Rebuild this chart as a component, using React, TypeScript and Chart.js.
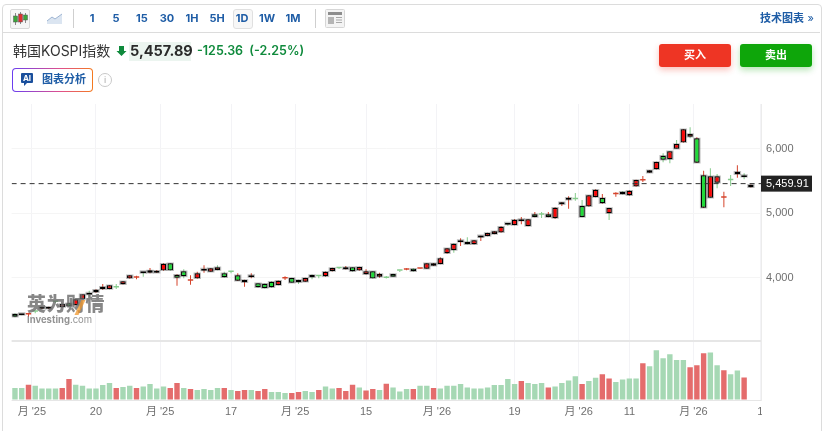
import { useEffect, useRef } from "react";
import { Chart, registerables } from "chart.js";

Chart.register(...registerables);

const opens = [
  3439, 3431, 3430, 3478, 3521, 3521, 3628, 3547, 3605, 3578,
  3672, 3748, 3776, 3862, 3827, 3852, 3900, 3992, 4000, 4081,
  4116, 4079, 4116, 4225, 4048, 4101, 3954, 3992, 4113, 4095,
  4121, 4070, 4095, 4039, 3966, 4014, 3915, 3909, 3940, 3889,
  3988, 3997, 3966, 3940, 4008, 4026, 4024, 4106, 4150, 4163,
  4163, 4116, 4055, 4101, 4017, 4000, 4059, 4112, 4124, 4142,
  4141, 4141, 4188, 4214, 4380, 4431, 4557, 4520, 4520, 4629,
  4648, 4679, 4705, 4833, 4819, 4882, 4803, 4985, 4980, 4985,
  4927, 5140, 5242, 5219, 5113, 5108, 5253, 5237, 5000, 5294,
  5335, 5279, 5418, 5507, 5629, 5682, 5893, 5837, 6001, 6100,
  6187, 6162, 5589, 5242, 5474, 5241, 5517, 5645, 5570, 5403,
];
const closes = [
  3397, 3423, 3433, 3475, 3547, 3547, 3625, 3594, 3558, 3667,
  3745, 3742, 3816, 3827, 3884, 3849, 3946, 4039, 4003, 4075,
  4079, 4110, 4219, 4116, 4002, 4024, 3957, 4070, 4120, 4148,
  4163, 4008, 4092, 3955, 3930, 4020, 3853, 3842, 3853, 3955,
  3991, 3924, 3930, 3997, 4044, 4023, 4095, 4152, 4147, 4132,
  4101, 4168, 4101, 3992, 4059, 3997, 4017, 4109, 4127, 4101,
  4144, 4225, 4225, 4302, 4458, 4529, 4563, 4555, 4582, 4635,
  4695, 4721, 4792, 4827, 4901, 4888, 4907, 4943, 4977, 4943,
  5087, 5170, 5211, 5216, 4943, 5279, 5366, 5155, 5082, 5297,
  5295, 5350, 5516, 5510, 5667, 5795, 5831, 5961, 6074, 6302,
  6229, 5784, 5087, 5574, 5574, 5244, 5514, 5605, 5564, 5443,
];
const highs = [
  3450, 3434, 3460, 3485, 3555, 3552, 3640, 3600, 3612, 3672,
  3750, 3800, 3822, 3904, 3890, 3904, 3952, 4045, 4033, 4090,
  4152, 4121, 4225, 4230, 4055, 4132, 4039, 4095, 4194, 4154,
  4194, 4095, 4097, 4070, 3972, 4070, 3920, 3914, 3946, 3960,
  4024, 4002, 3972, 4003, 4050, 4030, 4100, 4158, 4152, 4185,
  4168, 4173, 4132, 4106, 4079, 4028, 4064, 4114, 4148, 4147,
  4146, 4230, 4230, 4318, 4463, 4534, 4612, 4628, 4588, 4653,
  4700, 4726, 4798, 4845, 4912, 4943, 4912, 5020, 5020, 5020,
  5092, 5176, 5264, 5315, 5206, 5284, 5371, 5299, 5087, 5326,
  5340, 5356, 5521, 5578, 5672, 5800, 5930, 5966, 6136, 6307,
  6333, 6178, 5660, 5698, 5609, 5335, 5594, 5744, 5620, 5448,
];
const lows = [
  3390, 3420, 3397, 3450, 3515, 3516, 3605, 3540, 3552, 3572,
  3667, 3707, 3770, 3811, 3822, 3827, 3895, 3987, 3977, 4017,
  4070, 4075, 4110, 4110, 3878, 3992, 3893, 3987, 4079, 4090,
  4116, 4003, 4070, 3950, 3862, 3992, 3848, 3836, 3848, 3884,
  3966, 3920, 3904, 3935, 3977, 3992, 4018, 4100, 4135, 4128,
  4096, 4111, 4050, 3987, 4002, 3990, 4012, 4090, 4118, 4096,
  4136, 4136, 4183, 4209, 4375, 4389, 4493, 4515, 4515, 4571,
  4643, 4674, 4700, 4808, 4814, 4830, 4798, 4938, 4927, 4938,
  4912, 5113, 5071, 5195, 4938, 5103, 5248, 5150, 4896, 5257,
  5290, 5274, 5413, 5485, 5624, 5677, 5790, 5775, 5996, 6095,
  6162, 5779, 5082, 5237, 5388, 5093, 5423, 5552, 5527, 5398,
];
const volumes = [
  36, 36, 46, 43, 35, 35, 35, 36, 63, 46,
  43, 35, 35, 45, 51, 36, 39, 43, 36, 41,
  48, 35, 41, 36, 51, 36, 33, 30, 33, 30,
  36, 36, 30, 27, 30, 30, 27, 33, 24, 24,
  21, 21, 24, 27, 24, 30, 41, 35, 36, 27,
  46, 38, 29, 33, 30, 49, 38, 26, 33, 33,
  43, 43, 36, 35, 43, 43, 48, 38, 35, 35,
  38, 45, 45, 63, 48, 57, 51, 48, 51, 38,
  41, 51, 59, 72, 48, 57, 67, 78, 65, 54,
  62, 65, 65, 111, 102, 150, 126, 138, 121, 121,
  99, 105, 141, 143, 105, 90, 78, 89, 68,
];
// days whose volume bar is red, and candles whose wick differs from the body
const redVolumeDays = [2, 7, 8, 15, 18, 23, 24, 26, 31, 33, 34, 36, 37, 41, 42, 45, 48, 49, 50, 52, 53, 55, 59, 62, 75, 79, 84, 87, 88, 93, 100, 101, 102, 105, 108];
const oppositeWicks = [13, 20, 24, 30, 33, 34, 44, 49, 65, 67, 77, 79, 82, 87, 88, 97, 98, 100, 101, 102, 103, 104, 107];

const tickValues = [2.5, 12, 21.5, 32, 41.5, 52, 62.5, 74, 83.5, 91, 100.5, 110.4];
const tickLabels = ["月 '25", "20", "月 '25", "17", "月 '25", "15", "月 '26", "19", "月 '26", "11", "月 '26", "1"];
const priceTicks = [4000, 5000, 6000];
const lastPrice = 5459.91;

const UP = "#f80808";
const DOWN = "#1fdc38";
const AXIS_FONT = '"Liberation Sans", "Noto Sans CJK SC", sans-serif';
const UI_FONT = 'Inter, "Noto Sans CJK SC", sans-serif';

const isThin = (i: number) => Math.abs(opens[i] - closes[i]) <= 4;
const isDoji = (i: number) => !isThin(i) && Math.abs(opens[i] - closes[i]) <= 10;
const wickColor = (i: number) => {
  const up = closes[i] >= opens[i];
  const red = oppositeWicks.includes(i) ? !up : up;
  return red ? "#d5442c" : "#86cb8c";
};

const lastPriceBox = {
  id: "lastPriceBox",
  afterDraw(chart: any) {
    const { ctx, scales } = chart;
    const y = scales.y.getPixelForValue(lastPrice);
    ctx.save();
    ctx.fillStyle = "#222222";
    ctx.fillRect(761, y - 8, 51, 16);
    ctx.fillStyle = "#ffffff";
    ctx.font = `11px ${AXIS_FONT}`;
    ctx.textBaseline = "middle";
    ctx.fillText(lastPrice.toLocaleString("en-US"), 766, y + 0.5);
    ctx.restore();
  },
};

function PriceChart() {
  const canvasRef = useRef<HTMLCanvasElement>(null);

  useEffect(() => {
    if (!canvasRef.current) return;
    const days = opens.map((_, i) => i);
    const chart = new Chart(canvasRef.current, {
      type: "bar",
      data: {
        datasets: [
          {
            type: "line",
            data: [{ x: -0.5, y: lastPrice }, { x: 110.5, y: lastPrice }],
            borderColor: "#333333",
            borderWidth: 1,
            borderDash: [5, 4],
            pointRadius: 0,
            yAxisID: "y",
            order: 0,
          },
          {
            data: days.map((i) => ({ x: i, y: [lows[i], highs[i]] })),
            backgroundColor: days.map(wickColor),
            barThickness: 1,
            inflateAmount: 0,
            yAxisID: "y",
            order: 4,
          },
          {
            data: days.map((i) => ({ x: i, y: [opens[i], closes[i]] })),
            backgroundColor: days.map((i) => (isThin(i) ? "transparent" : "rgba(60,60,60,0.33)")),
            barThickness: 6,
            minBarLength: 2,
            inflateAmount: 0.7,
            yAxisID: "y",
            order: 3,
          },
          {
            data: days.map((i) => ({ x: i, y: [opens[i], closes[i]] })),
            backgroundColor: days.map((i) =>
              isThin(i) ? wickColor(i) : isDoji(i) ? "#000000" : closes[i] >= opens[i] ? UP : DOWN
            ),
            borderColor: "#000000",
            borderWidth: days.map((i) => (isThin(i) || isDoji(i) ? 0 : 1.2)),
            borderSkipped: false,
            barThickness: 5.4,
            minBarLength: 1.5,
            inflateAmount: 0,
            yAxisID: "y",
            order: 2,
          },
          {
            data: volumes.map((v, i) => ({ x: i, y: v })),
            backgroundColor: volumes.map((_, i) => (redVolumeDays.includes(i) ? "#e46c6c" : "#a6d8b4")),
            barThickness: 5.4,
            inflateAmount: 0,
            yAxisID: "yVol",
            order: 5,
          },
        ] as any,
      },
      options: {
        animation: false,
        responsive: false,
        events: [],
        layout: { padding: { left: 11.6, right: 13, top: 104, bottom: 0 } },
        plugins: { legend: { display: false }, tooltip: { enabled: false } },
        datasets: { bar: { grouped: false } },
        scales: {
          x: {
            type: "linear",
            offset: false,
            min: -0.5,
            max: 110.5,
            afterFit: (scale: any) => {
              scale.height = 31;
            },
            afterBuildTicks: (scale: any) => {
              scale.ticks = tickValues.map((value) => ({ value }));
            },
            grid: { color: "#f3f3f6", drawTicks: false, offset: false },
            border: { display: false },
            ticks: {
              autoSkip: false,
              maxRotation: 0,
              padding: 5,
              color: "#6f6f6f",
              font: { size: 11, family: AXIS_FONT },
              callback: (_v: any, i: number) => tickLabels[i],
            },
          },
          y: {
            position: "right",
            stack: "panes",
            stackWeight: 237,
            min: 3021,
            max: 6694,
            afterFit: (scale: any) => {
              scale.width = 50;
            },
            afterBuildTicks: (scale: any) => {
              scale.ticks = priceTicks.map((value) => ({ value }));
            },
            grid: { color: "#f5f5f5", drawTicks: false },
            border: { color: "#ececec" },
            ticks: {
              padding: 5,
              color: "#6f6f6f",
              font: { size: 11, family: AXIS_FONT },
              callback: (v: any) => Number(v).toLocaleString("en-US"),
            },
          },
          yVol: {
            position: "right",
            stack: "panes",
            stackWeight: 59,
            min: 0,
            max: 178,
            afterFit: (scale: any) => {
              scale.width = 50;
            },
            afterBuildTicks: (scale: any) => {
              scale.ticks = [{ value: 0 }, { value: 178 }];
            },
            grid: {
              color: "#e6e6e6",
              lineWidth: (ctx: any) => (ctx.tick.value === 0 ? 1 : 2),
              drawTicks: false,
            },
            border: { color: "#ececec" },
            ticks: { callback: () => "" },
          },
        },
      } as any,
      plugins: [lastPriceBox],
    });
    return () => chart.destroy();
  }, []);

  return <canvas ref={canvasRef} width={824} height={431} style={{ position: "absolute", left: 0, top: 0 }} />;
}

const abs = (left: number, top: number, extra: any = {}) => ({ position: "absolute", left, top, ...extra } as any);
const intervals: [string, number][] = [["1", 92], ["5", 116], ["15", 142], ["30", 167], ["1H", 192], ["5H", 217], ["1D", 242], ["1W", 267], ["1M", 293]];

export default function App() {
  return (
    <div style={{ position: "relative", width: 824, height: 431, background: "#fff", overflow: "hidden", fontFamily: UI_FONT }}>
      <style>{"body{margin:0}"}</style>
      <PriceChart />

      {/* card outline */}
      <div style={abs(2, 4, { width: 818, height: 440, border: "1px solid #dcdcdc", borderRadius: 4 })} />
      <div style={abs(3, 32, { width: 817, height: 1, background: "#dcdcdc" })} />

      {/* toolbar */}
      <div style={abs(10, 9, { width: 18, height: 18, border: "1px solid #d8d8d8", borderRadius: 2, background: "#f6f6f6" })} />
      <svg style={abs(10, 9)} width="20" height="20">
        <path d="M5.5 4v12M10.5 3v12M15.5 4v10" stroke="#8a8a8a" strokeWidth="1" />
        <rect x="3.5" y="7" width="4" height="6" fill="#3aa83a" stroke="#555" strokeWidth=".5" />
        <rect x="8.5" y="5" width="4" height="8" fill="#e03030" stroke="#555" strokeWidth=".5" />
        <rect x="13.5" y="6" width="4" height="5" fill="#3aa83a" stroke="#555" strokeWidth=".5" />
      </svg>
      <svg style={abs(46, 12)} width="18" height="13">
        <path d="M1 9 L6 5 L9 7 L16 2 V12 H1 Z" fill="#dbe5f1" />
        <path d="M1 9 L6 5 L9 7 L16 2" fill="none" stroke="#9db4d2" strokeWidth="1" />
      </svg>
      <div style={abs(73, 9, { width: 1, height: 19, background: "#cfcfcf" })} />
      <div style={abs(233, 9, { width: 18, height: 18, border: "1px solid #e0e0e0", borderRadius: 3, background: "#f7f7f7" })} />
      {intervals.map(([label, x]) => (
        <div key={label} style={abs(x - 15, 10, { width: 30, textAlign: "center", fontSize: 11, fontWeight: 700, lineHeight: "17px", color: "#1f5da6" })}>
          {label}
        </div>
      ))}
      <div style={abs(315, 9, { width: 1, height: 19, background: "#cfcfcf" })} />
      <svg style={abs(325, 9)} width="20" height="20">
        <rect x=".5" y=".5" width="19" height="18" rx="1" fill="#f4f4f4" stroke="#d6d6d6" />
        <rect x="3" y="3" width="14" height="3" fill="#8d8d8d" />
        <rect x="3" y="8" width="6" height="7" fill="#b5b5b5" />
        <path d="M11 8.5h6M11 11h6M11 13.500h6" stroke="#a8a8a8" />
      </svg>
      <div style={abs(760, 10, { fontSize: 11, fontWeight: 700, lineHeight: "16px", color: "#1f5da6", whiteSpace: "nowrap" })}>
        技术图表 <span style={{ fontWeight: 400, marginLeft: 1 }}>»</span>
      </div>

      {/* quote line */}
      <div style={abs(13, 41, { fontSize: 14, lineHeight: "20px", color: "#333", whiteSpace: "nowrap" })}>韩国KOSPI指数</div>
      <svg style={abs(116, 45)} width="11" height="12">
        <path d="M3 1h5v5h2.500L5.500 11 .5 6H3z" fill="#0f8a3c" />
      </svg>
      <div style={abs(129, 42, { width: 62, height: 19, background: "#ecf5f0" })} />
      <div style={abs(130, 41, { fontSize: 14.5, fontWeight: 700, lineHeight: "20px", color: "#2a2a2a", whiteSpace: "nowrap" })}>5,457.89</div>
      <div style={abs(197, 41, { fontSize: 12.5, fontWeight: 600, lineHeight: "20px", color: "#0f8a3c", whiteSpace: "pre" })}>-125.36  (-2.25%)</div>

      {/* AI button */}
      <div style={abs(12, 68, { width: 81, height: 24, borderRadius: 4, background: "linear-gradient(90deg,#6a3df0,#e0508c 60%,#f47a1f)" })} />
      <div style={abs(13, 69, { width: 79, height: 22, borderRadius: 3, background: "#fff" })} />
      <svg style={abs(20, 72)} width="14" height="15">
        <path d="M2 1h10a1 1 0 0 1 1 1v8a1 1 0 0 1-1 1H7l-3 3v-3H2a1 1 0 0 1-1-1V2a1 1 0 0 1 1-1z" fill="#1a4f9c" />
      </svg>
      <div style={abs(21, 73, { width: 12, color: "#fff", fontSize: 8, fontWeight: 700, lineHeight: "10px", textAlign: "center" })}>AI</div>
      <div style={abs(42, 71, { fontSize: 11, fontWeight: 600, lineHeight: "17px", color: "#1f5da6", whiteSpace: "nowrap" })}>图表分析</div>
      <div style={abs(98, 73, { width: 12, height: 12, border: "1px solid #c8c8c8", borderRadius: "50%", fontSize: 9, lineHeight: "12px", textAlign: "center", color: "#aaa" })}>i</div>

      {/* buy and sell */}
      <div style={abs(659, 44, { width: 72, height: 23, borderRadius: 3, background: "#ee3524", boxShadow: "0 3px 6px rgba(238,53,36,.3)", color: "#fff", fontSize: 11, fontWeight: 700, lineHeight: "23px", textAlign: "center" })}>买入</div>
      <div style={abs(740, 44, { width: 72, height: 23, borderRadius: 3, background: "#0ea60a", boxShadow: "0 3px 6px rgba(14,166,10,.3)", color: "#fff", fontSize: 11, fontWeight: 700, lineHeight: "23px", textAlign: "center" })}>卖出</div>

      {/* watermark */}
      <div style={abs(27, 294, { fontSize: 19, fontWeight: 900, lineHeight: "22px", color: "rgba(105,105,105,.8)", letterSpacing: 0.5, whiteSpace: "nowrap", pointerEvents: "none" })}>英为财情</div>
      <div style={abs(78, 300, { width: 4, height: 15, background: "rgba(240,150,40,.75)", transform: "skewX(-25deg)" })} />
      <div style={abs(27, 314, { fontSize: 9.500, fontWeight: 700, lineHeight: "11px", color: "rgba(120,120,120,.8)", whiteSpace: "nowrap" })}>
        Investing<span style={{ fontWeight: 400 }}>.com</span>
      </div>

      {/* the last tick label runs off the plot edge */}
      <div style={abs(761.5, 404, { width: 12, height: 18, background: "#fff" })} />
    </div>
  );
}
